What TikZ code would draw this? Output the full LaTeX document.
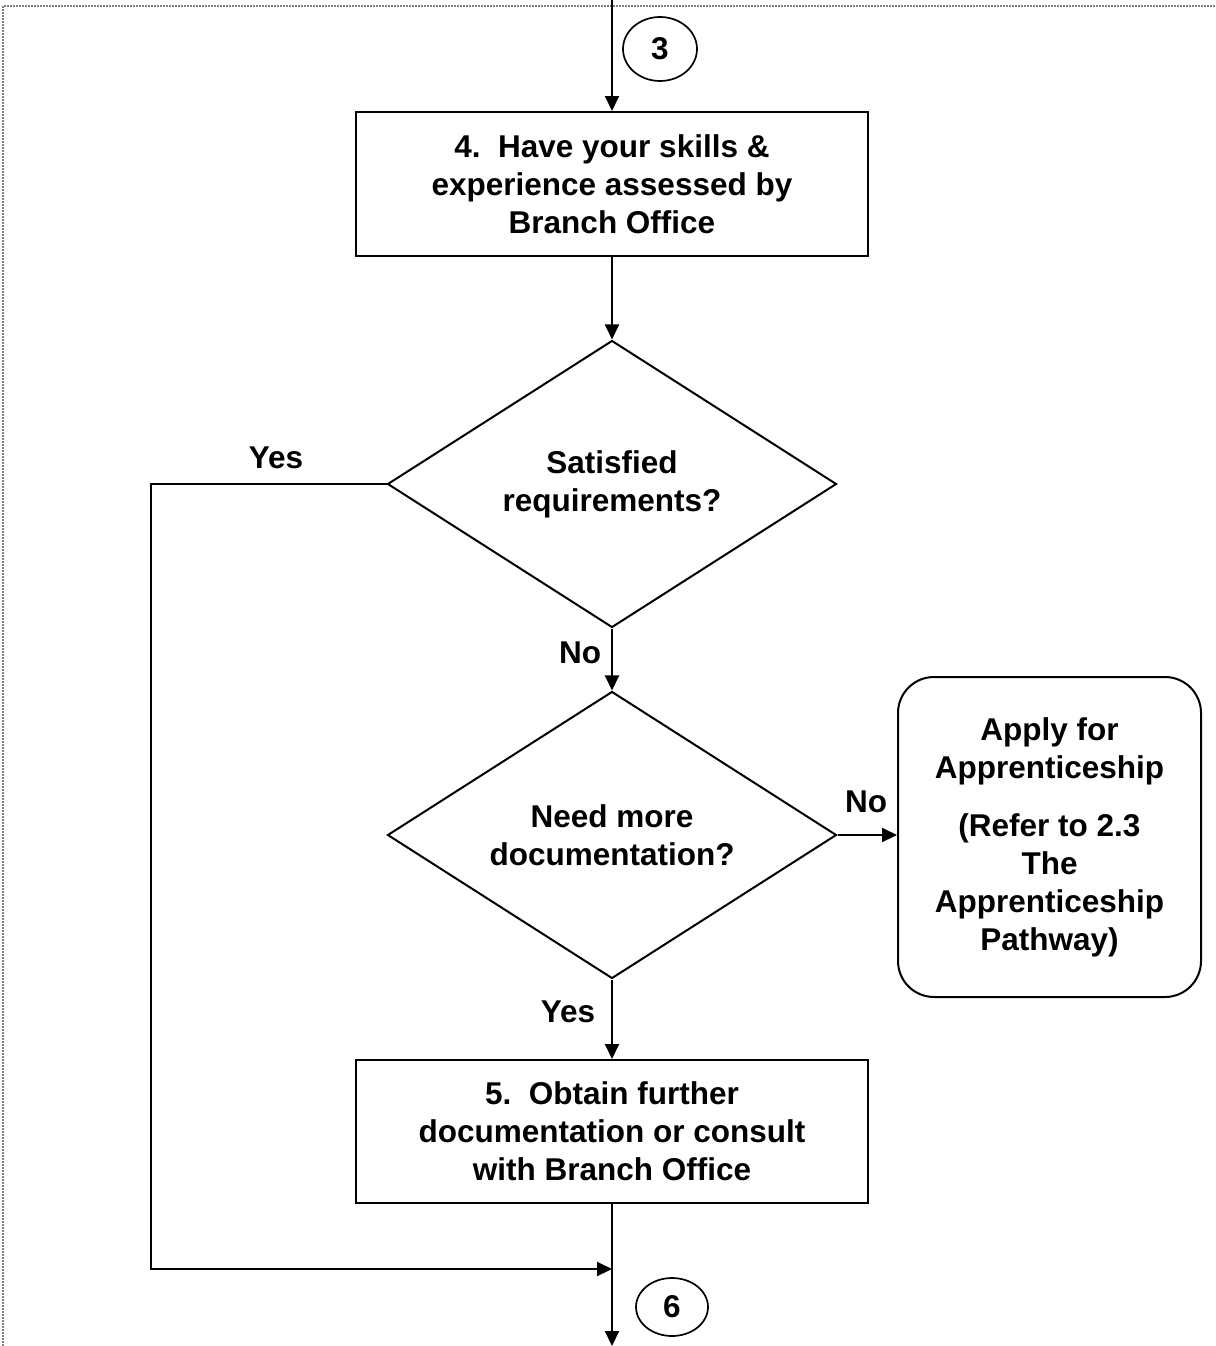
\documentclass[tikz,border=0pt]{standalone}
\usepackage{fontspec}
\setmainfont{Liberation Sans}
\usetikzlibrary{arrows.meta,shapes.geometric}
\tikzset{
  flowline/.style={line width=2pt,-{Triangle[length=15pt,width=14pt]}},
  stepbox/.style={draw,line width=2pt,minimum width=512pt,minimum height=144pt,align=center,inner sep=0pt},
  choice/.style={draw,diamond,line width=2pt,minimum width=449pt,minimum height=287pt,shape aspect=1.56,align=center,inner sep=0pt},
  offpage/.style={draw,ellipse,line width=1.7pt,inner sep=0pt},
  sidebox/.style={draw,rounded corners=36pt,line width=2pt,minimum width=303pt,minimum height=320pt,align=center,inner sep=0pt},
  answer/.style={inner sep=0pt},
  every node/.append style={font=\fontsize{31.5}{38}\selectfont\bfseries}
}
\begin{document}
\begin{tikzpicture}[x=1pt,y=1pt]
    \useasboundingbox (0,0) rectangle (1215,-1346);
    \draw[gray,line width=1.5pt,dash pattern=on 2pt off 1pt] (3,-1346) -- (3,-6) -- (1215,-6);
    \node[offpage,minimum width=74pt,minimum height=64pt] (pageA) at (660,-49) {3};
    \node[stepbox] (assess) at (612,-184) {4.\ \ Have your skills \&\\experience assessed by\\Branch Office};
    \node[choice] (satisfied) at (612,-484) {Satisfied\\requirements?};
    \node[choice] (moredocs) at (612,-835) {Need more\\documentation?};
    \node[sidebox] (apprentice) at (1049.5,-837) {Apply for\\Apprenticeship\\[20pt](Refer to 2.3\\The\\Apprenticeship\\Pathway)};
    \node[stepbox,minimum height=143pt] (obtain) at (612,-1131.5) {5.\ \ Obtain further\\documentation or consult\\with Branch Office};
    \node[offpage,minimum width=72pt,minimum height=58pt] (pageB) at (672,-1307) {6};
    \node[answer] (yesA) at (276,-458) {Yes};
    \node[answer] (noA) at (580,-653) {No};
    \node[answer] (noB) at (866,-802) {No};
    \node[answer] (yesB) at (568,-1012) {Yes};
    \coordinate (entry) at (612,0);
    \coordinate (yesturn) at (151,-484);
    \coordinate (merge) at (612,-1269);
    \coordinate (exit) at (612,-1346);
    \draw[flowline] (entry) -- (assess);
    \draw[flowline] (assess) -- (satisfied);
    \draw[flowline] (satisfied.west) -- (yesturn) |- (merge);
    \draw[flowline] (satisfied) -- (moredocs);
    \draw[flowline] (moredocs.east) -- (moredocs.east -| apprentice.west);
    \draw[flowline] (moredocs) -- (obtain);
    \draw[flowline] (obtain) -- (exit);
  \end{tikzpicture}
\end{document}
